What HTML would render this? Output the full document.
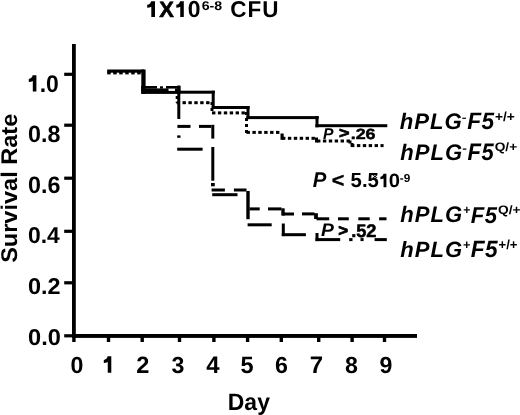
<!DOCTYPE html>
<html><head><meta charset="utf-8">
<style>
html,body{margin:0;padding:0;background:#fff;width:520px;height:415px;overflow:hidden}
svg{display:block;will-change:transform}
text{font-family:"Liberation Sans", sans-serif;font-weight:bold;fill:#000;text-rendering:geometricPrecision}
</style></head><body>
<svg width="520" height="415" viewBox="0 0 520 415">
<rect x="0" y="0" width="520" height="415" fill="#fff"/>
<g fill="#000">
<rect x="72.00" y="44.00" width="3.80" height="294.00"/>
<rect x="72.00" y="334.00" width="345.00" height="3.90"/>
<rect x="64.20" y="72.70" width="8.80" height="3.20"/>
<rect x="64.20" y="123.60" width="8.80" height="3.20"/>
<rect x="64.20" y="176.60" width="8.80" height="3.20"/>
<rect x="64.20" y="229.70" width="8.80" height="3.20"/>
<rect x="64.20" y="281.20" width="8.80" height="3.20"/>
<rect x="64.20" y="334.20" width="8.80" height="3.20"/>
<rect x="72.20" y="336.00" width="3.40" height="6.00"/>
<rect x="106.80" y="336.00" width="3.40" height="6.00"/>
<rect x="140.50" y="336.00" width="3.40" height="6.00"/>
<rect x="177.80" y="336.00" width="3.40" height="6.00"/>
<rect x="212.20" y="336.00" width="3.40" height="6.00"/>
<rect x="245.90" y="336.00" width="3.40" height="6.00"/>
<rect x="279.60" y="336.00" width="3.40" height="6.00"/>
<rect x="317.00" y="336.00" width="3.40" height="6.00"/>
<rect x="350.40" y="336.00" width="3.40" height="6.00"/>
<rect x="382.80" y="336.00" width="3.40" height="6.00"/>
<rect x="107.20" y="69.50" width="36.80" height="3.20"/>
<rect x="141.30" y="69.50" width="4.30" height="24.40"/>
<rect x="141.30" y="90.90" width="39.20" height="3.00"/>
<rect x="178.00" y="90.70" width="36.80" height="3.00"/>
<rect x="211.70" y="90.70" width="3.00" height="18.30"/>
<rect x="211.70" y="106.00" width="37.90" height="3.00"/>
<rect x="246.50" y="106.00" width="3.00" height="13.10"/>
<rect x="246.40" y="116.10" width="72.30" height="3.00"/>
<rect x="315.50" y="116.00" width="3.00" height="11.30"/>
<rect x="315.40" y="124.20" width="71.90" height="3.00"/>
<rect x="107.20" y="71.40" width="3.50" height="3.00"/>
<rect x="113.20" y="71.40" width="3.50" height="3.00"/>
<rect x="119.20" y="71.40" width="3.50" height="3.00"/>
<rect x="125.20" y="71.40" width="3.50" height="3.00"/>
<rect x="131.20" y="71.40" width="3.50" height="3.00"/>
<rect x="137.20" y="71.40" width="3.50" height="3.00"/>
<rect x="176.60" y="101.20" width="3.40" height="3.00"/>
<rect x="182.50" y="101.20" width="3.40" height="3.00"/>
<rect x="188.40" y="101.20" width="3.40" height="3.00"/>
<rect x="194.30" y="101.20" width="3.40" height="3.00"/>
<rect x="200.20" y="101.20" width="3.40" height="3.00"/>
<rect x="206.10" y="101.20" width="3.40" height="3.00"/>
<rect x="175.70" y="96.00" width="3.00" height="3.00"/>
<rect x="175.70" y="102.00" width="3.00" height="1.00"/>
<rect x="210.50" y="102.00" width="3.00" height="3.00"/>
<rect x="210.50" y="108.00" width="3.00" height="3.00"/>
<rect x="212.00" y="111.40" width="3.40" height="3.00"/>
<rect x="217.90" y="111.40" width="3.40" height="3.00"/>
<rect x="223.80" y="111.40" width="3.40" height="3.00"/>
<rect x="229.70" y="111.40" width="3.40" height="3.00"/>
<rect x="235.60" y="111.40" width="3.40" height="3.00"/>
<rect x="241.50" y="111.40" width="3.40" height="3.00"/>
<rect x="245.00" y="112.00" width="3.00" height="3.00"/>
<rect x="245.00" y="118.00" width="3.00" height="3.00"/>
<rect x="245.00" y="124.00" width="3.00" height="3.00"/>
<rect x="245.00" y="130.00" width="3.00" height="3.00"/>
<rect x="246.50" y="130.90" width="3.40" height="3.00"/>
<rect x="252.40" y="130.90" width="3.40" height="3.00"/>
<rect x="258.30" y="130.90" width="3.40" height="3.00"/>
<rect x="264.20" y="130.90" width="3.40" height="3.00"/>
<rect x="270.10" y="130.90" width="3.40" height="3.00"/>
<rect x="276.00" y="130.90" width="3.40" height="3.00"/>
<rect x="280.50" y="133.50" width="3.20" height="6.30"/>
<rect x="282.00" y="136.80" width="3.40" height="3.00"/>
<rect x="287.90" y="136.80" width="3.40" height="3.00"/>
<rect x="293.80" y="136.80" width="3.40" height="3.00"/>
<rect x="299.70" y="136.80" width="3.40" height="3.00"/>
<rect x="305.60" y="136.80" width="3.40" height="3.00"/>
<rect x="311.50" y="136.80" width="3.40" height="3.00"/>
<rect x="315.00" y="137.50" width="3.00" height="5.00"/>
<rect x="317.00" y="139.50" width="3.40" height="3.00"/>
<rect x="322.90" y="139.50" width="3.40" height="3.00"/>
<rect x="328.80" y="139.50" width="3.40" height="3.00"/>
<rect x="334.70" y="139.50" width="3.40" height="3.00"/>
<rect x="340.60" y="139.50" width="3.40" height="3.00"/>
<rect x="346.50" y="139.50" width="3.40" height="3.00"/>
<rect x="348.50" y="140.50" width="3.00" height="3.00"/>
<rect x="350.50" y="143.00" width="3.00" height="3.50"/>
<rect x="351.00" y="144.10" width="3.40" height="3.00"/>
<rect x="356.90" y="144.10" width="3.40" height="3.00"/>
<rect x="362.80" y="144.10" width="3.40" height="3.00"/>
<rect x="368.70" y="144.10" width="3.40" height="3.00"/>
<rect x="374.60" y="144.10" width="3.40" height="3.00"/>
<rect x="380.50" y="144.10" width="3.10" height="3.00"/>
<rect x="141.00" y="88.40" width="27.50" height="2.60"/>
<rect x="175.00" y="88.40" width="5.50" height="2.60"/>
<rect x="177.30" y="85.50" width="3.00" height="33.50"/>
<rect x="177.40" y="124.90" width="13.10" height="3.00"/>
<rect x="199.00" y="124.90" width="12.30" height="3.00"/>
<rect x="211.30" y="124.80" width="3.00" height="13.80"/>
<rect x="211.30" y="147.00" width="3.00" height="33.70"/>
<rect x="211.00" y="183.00" width="3.80" height="3.30"/>
<rect x="211.60" y="188.50" width="13.30" height="3.00"/>
<rect x="233.90" y="188.50" width="12.60" height="3.00"/>
<rect x="246.30" y="191.00" width="3.40" height="28.20"/>
<rect x="249.50" y="207.40" width="10.20" height="3.00"/>
<rect x="268.00" y="207.40" width="13.50" height="3.00"/>
<rect x="281.30" y="208.30" width="3.40" height="7.30"/>
<rect x="282.40" y="212.50" width="11.60" height="3.00"/>
<rect x="302.00" y="212.40" width="12.50" height="3.00"/>
<rect x="314.10" y="213.20" width="3.80" height="5.80"/>
<rect x="316.50" y="217.30" width="12.70" height="3.00"/>
<rect x="338.00" y="217.30" width="10.80" height="3.00"/>
<rect x="358.30" y="217.30" width="11.40" height="3.00"/>
<rect x="379.10" y="217.30" width="7.40" height="3.00"/>
<rect x="141.00" y="86.00" width="16.00" height="2.60"/>
<rect x="160.00" y="86.30" width="3.00" height="2.30"/>
<rect x="166.00" y="86.00" width="14.50" height="2.60"/>
<rect x="177.20" y="135.40" width="3.30" height="2.40"/>
<rect x="177.20" y="147.70" width="25.40" height="3.00"/>
<rect x="212.20" y="193.20" width="25.30" height="3.00"/>
<rect x="247.60" y="223.30" width="24.10" height="3.00"/>
<rect x="281.80" y="223.50" width="3.00" height="12.60"/>
<rect x="281.80" y="233.20" width="24.10" height="3.00"/>
<rect x="315.50" y="233.00" width="3.00" height="8.10"/>
<rect x="315.50" y="238.10" width="24.70" height="3.00"/>
<rect x="349.20" y="238.10" width="3.30" height="3.00"/>
<rect x="360.50" y="238.10" width="3.10" height="3.00"/>
<rect x="374.60" y="238.10" width="12.20" height="3.00"/>
</g>
<text transform="translate(159.30,16.75) scale(0.9966,1.0032)" style="font-size:22px;stroke:#000;stroke-width:0.6px;stroke-linejoin:round;">X</text>
<text transform="translate(187.76,17.04) scale(1.0439,1.0516)" style="font-size:22px;">0</text>
<text transform="translate(201.66,10.00) scale(1.0889,0.9778)" style="font-size:13px;">6-8</text>
<text transform="translate(230.18,16.84) scale(1.0212,1.0387)" style="font-size:22px;letter-spacing:1.0px;">CFU</text>
<text transform="translate(39.70,91.54) scale(0.9970,1.0462)" style="font-size:23px;">.0</text>
<text transform="translate(27.99,142.44) scale(1.0116,1.0277)" style="font-size:23px;">0.8</text>
<text transform="translate(27.99,193.04) scale(1.0116,1.0338)" style="font-size:23px;">0.6</text>
<text transform="translate(28.00,243.05) scale(0.9951,0.9969)" style="font-size:23px;">0.4</text>
<text transform="translate(27.98,293.55) scale(1.0200,0.9908)" style="font-size:23px;">0.2</text>
<text transform="translate(28.07,344.65) scale(1.0267,1.0031)" style="font-size:23px;">0.0</text>
<text transform="translate(70.42,372.65) scale(1.0092,1.0092)" style="font-size:23px;">0</text>
<text transform="translate(136.29,372.90) scale(1.0250,1.0250)" style="font-size:23px;">2</text>
<text transform="translate(171.59,372.65) scale(1.0092,1.0092)" style="font-size:23px;">3</text>
<text transform="translate(206.18,372.90) scale(1.0413,1.0413)" style="font-size:23px;">4</text>
<text transform="translate(240.44,372.64) scale(1.0250,1.0250)" style="font-size:23px;">5</text>
<text transform="translate(275.02,372.65) scale(1.0092,1.0092)" style="font-size:23px;">6</text>
<text transform="translate(309.86,372.90) scale(1.0413,1.0413)" style="font-size:23px;">7</text>
<text transform="translate(345.02,372.65) scale(1.0092,1.0092)" style="font-size:23px;">8</text>
<text transform="translate(379.62,372.65) scale(1.0092,1.0092)" style="font-size:23px;">9</text>
<text transform="translate(17.15,262.87) rotate(-90) scale(1.0232,0.9882)" style="font-size:23px;">Survival Rate</text>
<text transform="translate(227.80,409.51) scale(0.9975,1.0293)" style="font-size:23px;">Day</text>
<text transform="translate(399.70,129.34) scale(1.0083,1.0215)" style="font-size:22px;font-style:italic;letter-spacing:1.0px;">hPLG</text>
<text transform="translate(461.85,121.00) scale(1.1077,0.8000)" style="font-size:13px;">-</text>
<text transform="translate(467.21,129.04) scale(0.9852,1.0313)" style="font-size:23px;font-style:italic;letter-spacing:0.5px;">F5</text>
<text transform="translate(494.97,121.35) scale(1.0592,1.0051)" style="font-size:13px;">+/+</text>
<text transform="translate(400.30,160.44) scale(1.0033,1.0277)" style="font-size:22px;font-style:italic;letter-spacing:1.0px;">hPLG</text>
<text transform="translate(462.16,151.74) scale(1.0769,0.8571)" style="font-size:13px;">-</text>
<text transform="translate(467.52,160.24) scale(0.9556,1.0437)" style="font-size:23px;font-style:italic;letter-spacing:0.5px;">F5</text>
<text transform="translate(494.67,151.25) scale(1.0568,0.9417)" style="font-size:13px;">Q/+</text>
<text transform="translate(400.30,222.44) scale(1.0033,1.0277)" style="font-size:22px;font-style:italic;letter-spacing:1.0px;">hPLG</text>
<text transform="translate(463.23,213.64) scale(0.9385,0.9385)" style="font-size:13px;">+</text>
<text transform="translate(470.82,222.55) scale(0.9593,1.0000)" style="font-size:23px;font-style:italic;letter-spacing:0.5px;">F5</text>
<text transform="translate(497.97,214.25) scale(1.0568,0.9417)" style="font-size:13px;">Q/+</text>
<text transform="translate(400.30,256.65) scale(1.0033,1.0031)" style="font-size:22px;font-style:italic;letter-spacing:1.0px;">hPLG</text>
<text transform="translate(462.91,249.37) scale(0.9846,0.9692)" style="font-size:13px;">+</text>
<text transform="translate(470.71,256.54) scale(0.9852,1.0250)" style="font-size:23px;font-style:italic;letter-spacing:0.5px;">F5</text>
<text transform="translate(498.50,249.35) scale(1.0085,1.0051)" style="font-size:13px;">+/+</text>
<text transform="translate(322.94,139.10) scale(1.0462,1.0439)" style="font-size:15px;font-style:italic;">P</text>
<text transform="translate(339.00,138.20) scale(1.1879,1.0057)" style="font-size:15px;stroke:#000;stroke-width:0.8px;stroke-linejoin:round;">&gt;</text>
<text transform="translate(350.71,139.15) scale(1.1899,0.9818)" style="font-size:15px;stroke:#000;stroke-width:0.5px;stroke-linejoin:round;">.26</text>
<text transform="translate(320.92,236.40) scale(1.1364,1.0638)" style="font-size:17px;font-style:italic;">P</text>
<text transform="translate(338.35,236.43) scale(0.9895,0.9744)" style="font-size:17px;stroke:#000;stroke-width:0.8px;stroke-linejoin:round;">&gt;</text>
<text transform="translate(351.13,236.76) scale(1.0742,1.0720)" style="font-size:17px;stroke:#000;stroke-width:0.5px;stroke-linejoin:round;">.52</text>
<text transform="translate(312.83,186.80) scale(1.0720,1.1231)" style="font-size:19px;font-style:italic;">P</text>
<text transform="translate(331.85,186.77) scale(1.1385,1.0667)" style="font-size:19px;stroke:#000;stroke-width:0.3px;stroke-linejoin:round;">&lt;</text>
<text transform="translate(350.56,186.73) scale(1.0745,1.0717)" style="font-size:19px;">5.5</text>
<text transform="translate(372.25,177.80) scale(1.4000,0.8000)" style="font-size:7px;">x</text>
<text transform="translate(388.70,187.05) scale(1.0667,1.0148)" style="font-size:19px;">0</text>
<text transform="translate(399.71,181.80) scale(0.9846,0.9697)" style="font-size:12px;">-9</text>
<g fill="#000">
<path transform="translate(147.20,1.20) scale(1.0263,0.9693)" d="M 4.0 0 L 7.6 0 L 7.6 16.3 L 4.0 16.3 L 4.0 5.7 C 3.0 6.3 1.6 6.6 0 6.7 L 0 3.7 C 2.0 3.4 3.4 2.0 3.9 0 Z"/>
<path transform="translate(176.30,1.20) scale(0.9868,0.9693)" d="M 4.0 0 L 7.6 0 L 7.6 16.3 L 4.0 16.3 L 4.0 5.7 C 3.0 6.3 1.6 6.6 0 6.7 L 0 3.7 C 2.0 3.4 3.4 2.0 3.9 0 Z"/>
<path transform="translate(28.80,75.20) scale(1.0000,1.0061)" d="M 4.0 0 L 7.6 0 L 7.6 16.3 L 4.0 16.3 L 4.0 5.7 C 3.0 6.3 1.6 6.6 0 6.7 L 0 3.7 C 2.0 3.4 3.4 2.0 3.9 0 Z"/>
<path transform="translate(103.80,356.20) scale(0.9868,1.0184)" d="M 4.0 0 L 7.6 0 L 7.6 16.3 L 4.0 16.3 L 4.0 5.7 C 3.0 6.3 1.6 6.6 0 6.7 L 0 3.7 C 2.0 3.4 3.4 2.0 3.9 0 Z"/>
<path transform="translate(380.40,173.80) scale(0.7895,0.8221)" d="M 4.0 0 L 7.6 0 L 7.6 16.3 L 4.0 16.3 L 4.0 5.7 C 3.0 6.3 1.6 6.6 0 6.7 L 0 3.7 C 2.0 3.4 3.4 2.0 3.9 0 Z"/>
</g>
</svg>
</body></html>
